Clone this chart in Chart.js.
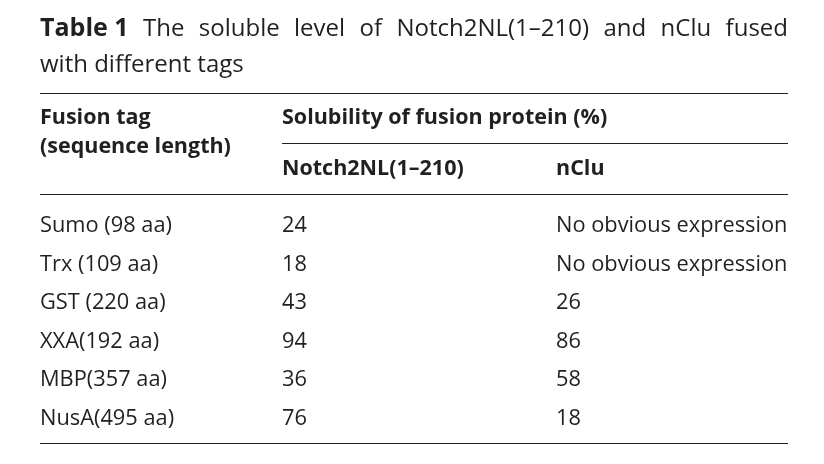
<!DOCTYPE html>
<html>
<head>
<meta charset="utf-8">
<script src="https://cdn.jsdelivr.net/npm/chart.js@4"></script>
<style>
  html, body { margin: 0; padding: 0; background: #fff; }
  #wrap { width: 824px; height: 464px; }
</style>
</head>
<body>
<div id="wrap"><canvas id="tbl"></canvas></div>
<script>
// table contents
const tags = ['Sumo (98 aa)', 'Trx (109 aa)', 'GST (220 aa)', 'XXA(192 aa)', 'MBP(357 aa)', 'NusA(495 aa)'];
const notchValues = ['24', '18', '43', '94', '36', '76'];
const ncluValues = ['No obvious expression', 'No obvious expression', '26', '86', '58', '18'];
const titleBold = 'Table 1';
const titleLine1 = 'The soluble level of Notch2NL(1\u2013210) and nClu fused';
const titleLine2 = 'with different tags';
const headTag = ['Fusion tag', '(sequence length)'];
const headGroup = 'Solubility of fusion protein (%)';
const headCols = ['Notch2NL(1\u2013210)', 'nClu'];

const ink = '#231f20';
const font = '"Open Sans", "Noto Sans", sans-serif';
const colX = [40, 282, 556];
const left = 40, right = 788;

// draws the table text using the chart's y scale for the body rows
const tablePlugin = {
  id: 'tablePlugin',
  afterDraw(chart) {
    const ctx = chart.ctx;
    const y = chart.scales.y;
    ctx.save();
    ctx.fillStyle = ink;
    ctx.strokeStyle = ink;
    ctx.textBaseline = 'middle';

    // title, first line justified
    ctx.font = 'bold 25px ' + font;
    ctx.fillText(titleBold, left, 29);
    let x = left + ctx.measureText(titleBold).width;
    ctx.font = '24px ' + font;
    const words = titleLine1.split(' ');
    const wordsW = words.reduce((s, w) => s + ctx.measureText(w).width, 0);
    const gap = (right - x - wordsW) / words.length;
    words.forEach(w => {
      x += gap;
      ctx.fillText(w, x, 29);
      x += ctx.measureText(w).width;
    });
    ctx.fillText(titleLine2, left, 65);

    // rules
    ctx.lineWidth = 1;
    [[left, 93], [left, 194], [left, 443], [colX[1], 143]].forEach(([x0, yy]) => {
      ctx.beginPath();
      ctx.moveTo(x0, yy + 0.5);
      ctx.lineTo(right, yy + 0.5);
      ctx.stroke();
    });

    // header
    ctx.font = 'bold 21.5px ' + font;
    ctx.fillText(headTag[0], colX[0], 118);
    ctx.fillText(headTag[1], colX[0], 147);
    ctx.fillText(headGroup, colX[1], 118);
    ctx.fillText(headCols[0], colX[1], 169);
    ctx.fillText(headCols[1], colX[2], 169);

    // body
    ctx.font = '21.8px ' + font;
    tags.forEach((t, i) => {
      const yy = y.getPixelForValue(i);
      ctx.fillText(t, colX[0], yy);
      ctx.fillText(notchValues[i], colX[1], yy);
      ctx.fillText(ncluValues[i], colX[2], yy);
    });
    ctx.restore();
  }
};

new Chart(document.getElementById('tbl'), {
  type: 'bar',
  data: {
    labels: tags,
    datasets: [{ data: [], backgroundColor: 'rgba(0,0,0,0)' }]
  },
  options: {
    responsive: true,
    maintainAspectRatio: false,
    animation: false,
    indexAxis: 'y',
    layout: { padding: { top: 207, bottom: 26, left: 0, right: 0 } },
    plugins: { legend: { display: false }, tooltip: { enabled: false } },
    scales: {
      x: { display: false, min: 0, max: 100 },
      y: { display: false, offset: true }
    }
  },
  plugins: [tablePlugin]
});
</script>
</body>
</html>
